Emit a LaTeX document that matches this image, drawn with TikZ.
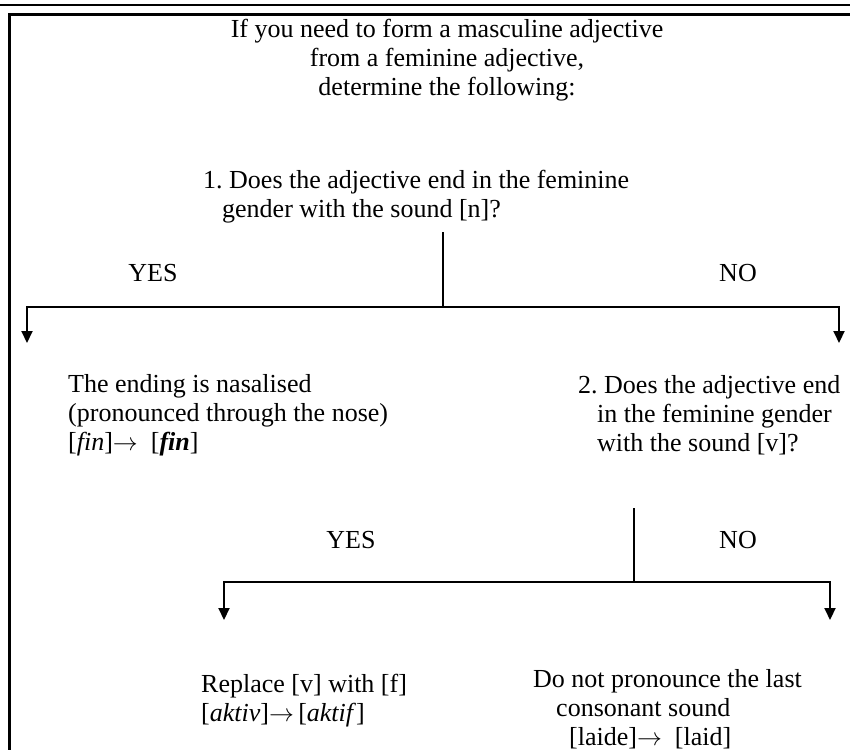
\documentclass[tikz,border=0pt]{standalone}
\usepackage{fontspec}
\setmainfont{Liberation Serif}
\usetikzlibrary{arrows.meta}
\frenchspacing

\begin{document}
\begin{tikzpicture}[x=1pt, y=-1pt,
        txt/.style={font=\fontsize{26}{29}\selectfont, inner sep=0pt},
        link/.style={line width=2pt},
        down/.style={link, -{Triangle[width=11pt, length=12pt]}}]
        \useasboundingbox (0,0) rectangle (850,750);

        % --- Khung trang: vạch đầu trang và khung bảng ---
        \draw[line width=2.5pt] (0,5) -- (850,5);
        \draw[line width=3pt] (850,14.5) -- (9.5,14.5) -- (9.5,750);

        % --- Tiêu đề ---
        \node[txt, align=center] (title) at (447,60)
            {If you need to form a masculine adjective\\from a feminine adjective,\\determine the following:};

        % --- Câu hỏi 1 và nhánh YES / NO ---
        \node[txt, align=left, anchor=west] (q1) at (203,197)
            {1. Does the adjective end in the feminine\\\hspace*{19pt}gender with the sound [n]?};
        \coordinate (q1top) at (443,232);
        \coordinate (q1fork) at (443,307);
        \coordinate (q1yes) at (27,343);
        \coordinate (q1no) at (839,343);
        \draw[link] (q1top) -- (q1fork);
        \draw[down] (q1fork) -| (q1yes);
        \draw[down] (q1fork) -| (q1no);
        \node[txt] (yes1) at (153,273) {YES};
        \node[txt] (no1) at (738,273) {NO};

        % --- Kết quả YES: âm mũi ---
        \node[txt, align=left, anchor=west] (nasal) at (68,415)
            {The ending is nasalised\\(pronounced through the nose)\\{}[\textit{fin}]$\rightarrow$\enspace[\textbf{\textit{fin}}]};

        % --- Câu hỏi 2 (nhánh NO) ---
        \node[txt, align=left, anchor=west] (q2) at (578,415)
            {2. Does the adjective end\\\hspace*{19pt}in the feminine gender\\\hspace*{19pt}with the sound [v]?};
        \coordinate (q2top) at (634,508);
        \coordinate (q2fork) at (634,582);
        \coordinate (q2yes) at (224,620);
        \coordinate (q2no) at (830,620);
        \draw[link] (q2top) -- (q2fork);
        \draw[down] (q2fork) -| (q2yes);
        \draw[down] (q2fork) -| (q2no);
        \node[txt] (yes2) at (351,540) {YES};
        \node[txt] (no2) at (738,540) {NO};

        % --- Kết quả của câu hỏi 2 ---
        \node[txt, align=left, anchor=west] (repl) at (201,701)
            {Replace [v] with [f]\\{}[\textit{aktiv}]$\rightarrow$\,[\textit{aktif}]};
        \node[txt, align=left, anchor=west] (drop) at (533,709)
            {Do not pronounce the last\\\hspace*{23pt}consonant sound\\\hspace*{36pt}[laide]$\rightarrow$\enspace[laid]};
    \end{tikzpicture}
\end{document}
